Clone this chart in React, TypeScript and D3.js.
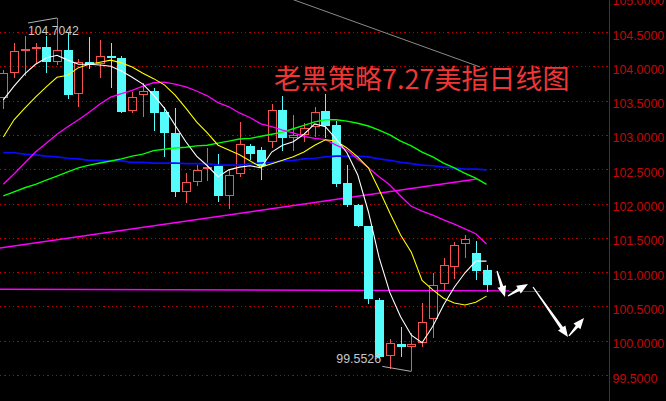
import React from "react";
import * as d3 from "d3";

const WIDTH = 666;
const HEIGHT = 401;
const AXIS_X = 609;

// Daily OHLC of the US dollar index
const opens = [103.54, 103.90, 104.22, 104.27, 104.28, 104.06, 104.24, 103.60, 104.06, 104.03, 104.15, 104.12, 103.35, 103.58, 103.64, 103.33, 103.03, 102.17, 102.31, 102.50, 102.55, 102.11, 102.43, 102.84, 102.78, 102.90, 103.36, 102.95, 103.00, 103.12, 103.35, 103.14, 102.30, 101.98, 101.67, 100.59, 99.78, 99.95, 99.91, 99.97, 100.32, 100.83, 101.07, 101.41, 101.28, 101.03];
const highs = [103.95, 104.34, 104.44, 104.34, 104.44, 104.7042, 104.50, 104.11, 104.43, 104.38, 104.34, 104.15, 103.63, 103.76, 103.68, 103.41, 103.39, 102.44, 102.56, 102.81, 102.72, 102.49, 103.19, 102.87, 102.82, 103.45, 103.57, 103.29, 103.17, 103.41, 103.60, 103.20, 102.56, 101.99, 101.67, 100.62, 100.02, 100.20, 100.11, 100.55, 100.99, 101.21, 101.44, 101.54, 101.45, 101.10];
const lows = [103.38, 103.83, 103.86, 104.05, 103.90, 104.02, 103.52, 103.41, 103.96, 103.83, 103.68, 103.32, 103.32, 103.26, 103.06, 102.68, 102.09, 102.01, 102.26, 102.33, 102.02, 101.92, 102.39, 102.63, 102.34, 102.81, 102.77, 102.77, 102.90, 102.97, 102.95, 102.24, 101.95, 101.66, 100.53, 99.75, 99.59, 99.76, 99.5526, 99.91, 100.04, 100.74, 100.90, 101.21, 100.88, 100.71];
const closes = [103.90, 104.22, 104.25, 104.28, 104.06, 104.24, 103.58, 104.06, 104.02, 104.15, 104.14, 103.33, 103.55, 103.64, 103.32, 103.03, 102.17, 102.31, 102.49, 102.53, 102.11, 102.42, 102.87, 102.72, 102.55, 103.36, 102.95, 103.00, 103.10, 103.33, 103.13, 102.28, 101.98, 101.67, 100.61, 99.76, 99.97, 99.91, 99.95, 100.27, 100.81, 101.10, 101.40, 101.48, 101.02, 100.81];

// Moving averages, one value per candle
const ma5 = [103.51, 103.71, 103.89, 104.03, 104.12, 104.16, 104.09, 104.03, 104.03, 104.02, 104.00, 103.93, 103.84, 103.74, 103.58, 103.39, 103.14, 102.90, 102.69, 102.55, 102.39, 102.49, 102.53, 102.55, 102.52, 102.75, 102.85, 102.90, 103.01, 103.16, 103.12, 102.94, 102.74, 102.42, 101.88, 101.21, 100.70, 100.35, 100.08, 99.97, 100.21, 100.52, 100.78, 100.99, 101.16, 101.16];
const ma10 = [102.97, 103.22, 103.39, 103.55, 103.70, 103.84, 103.87, 103.98, 104.03, 104.06, 104.09, 104.05, 103.99, 103.90, 103.82, 103.73, 103.58, 103.39, 103.19, 103.03, 102.85, 102.78, 102.71, 102.62, 102.53, 102.58, 102.63, 102.68, 102.75, 102.85, 102.93, 102.91, 102.81, 102.68, 102.52, 102.20, 101.86, 101.54, 101.29, 100.88, 100.74, 100.62, 100.55, 100.52, 100.56, 100.65];
const ma20 = [102.28, 102.43, 102.59, 102.75, 102.88, 103.01, 103.12, 103.22, 103.33, 103.45, 103.55, 103.60, 103.65, 103.71, 103.76, 103.77, 103.74, 103.70, 103.64, 103.57, 103.47, 103.41, 103.32, 103.25, 103.16, 103.12, 103.07, 103.03, 102.98, 102.95, 102.93, 102.85, 102.78, 102.65, 102.52, 102.39, 102.27, 102.11, 101.96, 101.89, 101.83, 101.76, 101.70, 101.63, 101.56, 101.41];
const ma60 = [102.11, 102.17, 102.23, 102.28, 102.34, 102.40, 102.46, 102.52, 102.56, 102.59, 102.62, 102.65, 102.69, 102.72, 102.77, 102.79, 102.81, 102.82, 102.84, 102.85, 102.88, 102.91, 102.94, 102.95, 102.98, 103.01, 103.04, 103.09, 103.14, 103.19, 103.22, 103.22, 103.20, 103.17, 103.13, 103.07, 103.00, 102.91, 102.84, 102.75, 102.68, 102.59, 102.52, 102.44, 102.37, 102.28];
const ma120 = [102.74, 102.74, 102.72, 102.71, 102.69, 102.68, 102.66, 102.65, 102.63, 102.63, 102.62, 102.62, 102.60, 102.60, 102.59, 102.59, 102.59, 102.58, 102.58, 102.58, 102.56, 102.56, 102.56, 102.58, 102.59, 102.60, 102.62, 102.63, 102.65, 102.66, 102.68, 102.69, 102.69, 102.69, 102.68, 102.65, 102.63, 102.60, 102.58, 102.56, 102.55, 102.53, 102.52, 102.50, 102.50, 102.49];

const priceTicks = [105, 104.5, 104, 103.5, 103, 102.5, 102, 101.5, 101, 100.5, 100, 99.5];

const titleText = "老黑策略7.27美指日线图";

// Extreme marks: [candle index, price]
const highMark: [number, number] = [5, 104.7042];
const lowMark: [number, number] = [38, 99.5526];

// Drawn lines: [candle index, price] endpoints
const grayTrend: [number, number][] = [[26.5, 105.0], [44.4, 103.99]];
const risingTrend: [number, number][] = [[-0.5, 101.346], [44.1, 102.357]];
const flatLevel: [number, number][] = [[-0.5, 100.75], [50.0, 100.725]];

// Projected path arrows: [start, tip]
const arrowPaths: [number, number][][] = [
  [[45.98, 101.016], [46.72, 100.637]],
  [[47.0, 100.652], [48.86, 100.827]],
  [[49.33, 100.783], [52.59, 100.054]],
  [[52.68, 100.069], [54.08, 100.331]],
];

const UP = "#f65252";
const DOWN = "#54fcfc";
const GRID = "#b80000";
const AXIS_TEXT = "#c40808";

export default function App() {
  const x = d3.scaleLinear().domain([0, 45]).range([3.3, 486.5]);
  const y = d3.scaleLinear().domain([99.5, 104.5]).range([375, 32]);
  const idx = d3.range(opens.length);

  const maLine = (vals: number[]) =>
    d3.line<number>().x((_, i) => x(i)).y((v) => y(v))(vals) || "";
  const seg = (pts: [number, number][]) =>
    d3.line<[number, number]>().x((p) => x(p[0])).y((p) => y(p[1]))(pts) || "";

  const candles = idx.map((i) => {
    const o = opens[i], c = closes[i], h = highs[i], l = lows[i];
    const cx = Math.round(x(i));
    const up = c >= o;
    const top = Math.round(y(Math.max(o, c)));
    const bot = Math.round(y(Math.min(o, c)));
    const yh = Math.round(y(h));
    const yl = Math.round(y(l));
    if (up) {
      return (
        <g key={i} stroke={UP} fill="none" shapeRendering="crispEdges">
          <line x1={cx + 0.5} x2={cx + 0.5} y1={yh} y2={top} />
          <line x1={cx + 0.5} x2={cx + 0.5} y1={bot} y2={yl} />
          <rect x={cx - 3.5} y={top + 0.5} width={8} height={Math.max(bot - top - 1, 1)} />
        </g>
      );
    }
    return (
      <g key={i} shapeRendering="crispEdges">
        <line x1={cx + 0.5} x2={cx + 0.5} y1={yh} y2={yl} stroke={DOWN} />
        <rect x={cx - 4} y={top} width={9} height={Math.max(bot - top, 2)} fill={DOWN} />
      </g>
    );
  });

  const arrows = arrowPaths.map((a, k) => {
    const sx = x(a[0][0]), sy = y(a[0][1]);
    const ex = x(a[1][0]), ey = y(a[1][1]);
    const len = Math.hypot(ex - sx, ey - sy);
    const ux = (ex - sx) / len, uy = (ey - sy) / len;
    const head = 11, half = 4.5;
    const bx = ex - ux * head, by = ey - uy * head;
    const px = -uy, py = ux;
    const tail = 0.6, neck = 1.6;
    const poly = [
      [sx + px * tail, sy + py * tail],
      [bx + px * neck, by + py * neck],
      [bx + px * half, by + py * half],
      [ex, ey],
      [bx - px * half, by - py * half],
      [bx - px * neck, by - py * neck],
      [sx - px * tail, sy - py * tail],
    ];
    return <polygon key={k} points={poly.map((p) => p.join(",")).join(" ")} fill="#ffffff" />;
  });

  const hx = x(highMark[0]), hy = y(highMark[1]);
  const lx = x(lowMark[0]), ly = y(lowMark[1]);

  return (
    <div style={{ position: "absolute", left: 0, top: 0 }}>
      <svg width={WIDTH} height={HEIGHT} style={{ display: "block" }}>
        <defs>
          <clipPath id="plot">
            <rect x={0} y={0} width={AXIS_X} height={HEIGHT} />
          </clipPath>
        </defs>
        <rect width={WIDTH} height={HEIGHT} fill="#000" />
        {priceTicks.map((t) => (
          <line
            key={t}
            x1={0}
            x2={AXIS_X}
            y1={Math.round(y(t)) + 0.5}
            y2={Math.round(y(t)) + 0.5}
            stroke={GRID}
            strokeDasharray="1.3 3"
            shapeRendering="crispEdges"
          />
        ))}
        <line x1={AXIS_X + 0.5} x2={AXIS_X + 0.5} y1={0} y2={HEIGHT} stroke="#c00000" shapeRendering="crispEdges" />
        {priceTicks.map((t) => (
          <text
            key={t}
            x={612.5}
            y={y(t) + 7.5}
            fill={AXIS_TEXT}
            fontFamily="Liberation Sans, Arial, sans-serif"
            fontSize={12.4}
          >
            {t.toFixed(4)}
          </text>
        ))}
        <g clipPath="url(#plot)" fill="none">
          <path d={seg(grayTrend)} stroke="#8a8a8a" strokeWidth={1} />
          <path d={seg(risingTrend)} stroke="#ff00ff" strokeWidth={1.4} />
          <path d={seg(flatLevel)} stroke="#ff00ff" strokeWidth={1.4} />
          {candles}
          <path d={maLine(ma120)} stroke="#0a0aff" strokeWidth={1.7} />
          <path d={maLine(ma60)} stroke="#00ff00" strokeWidth={1.4} />
          <path d={maLine(ma20)} stroke="#ff00ff" strokeWidth={1.3} />
          <path d={maLine(ma10)} stroke="#ffff00" strokeWidth={1.1} />
          <path d={maLine(ma5)} stroke="#ffffff" strokeWidth={1.1} />
        </g>
        <path d={`M${hx - 29},${hy + 5}L${hx},${hy}`} stroke="#b0b0b0" fill="none" />
        <text x={hx - 29} y={hy + 17} fill="#c8c8c8" fontFamily="Liberation Sans, Arial, sans-serif" fontSize={12.2}>
          {highMark[1].toFixed(4)}
        </text>
        <path d={`M${lx - 29},${ly - 5}L${lx},${ly}`} stroke="#b0b0b0" fill="none" />
        <text x={lx - 75} y={ly - 8.5} fill="#c8c8c8" fontFamily="Liberation Sans, Arial, sans-serif" fontSize={12.4}>
          {lowMark[1].toFixed(4)}
        </text>
        {arrows}
        <text x={274} y={89} fill="#f03636" fontFamily="Noto Sans CJK SC, sans-serif" fontSize={27}>
          {titleText}
        </text>
      </svg>
    </div>
  );
}
